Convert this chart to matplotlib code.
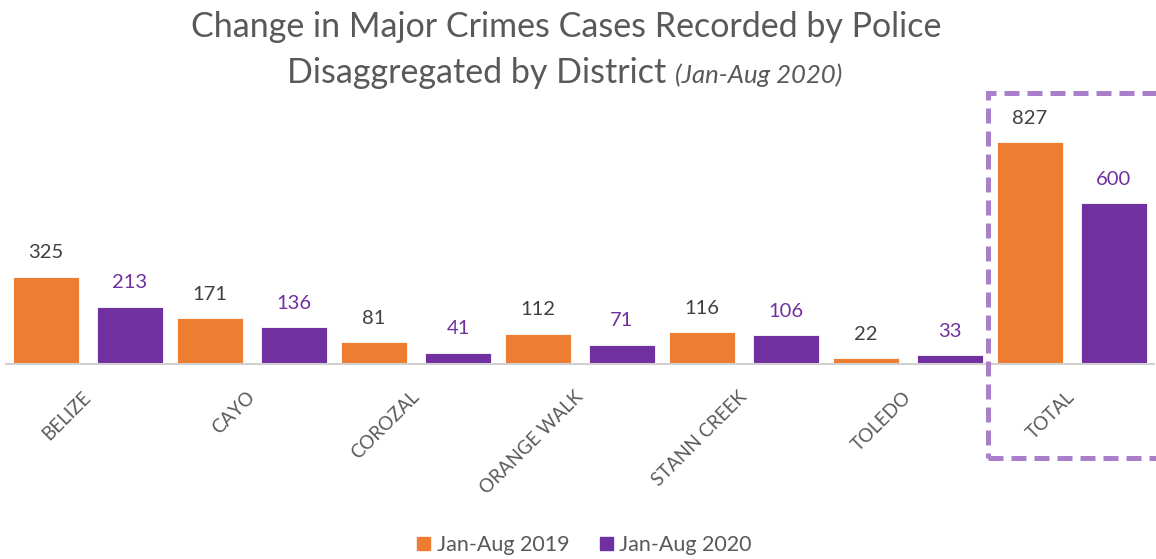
import matplotlib
matplotlib.use("Agg")
import matplotlib.pyplot as plt
import numpy as np
from matplotlib.patches import Rectangle, Patch

categories = ["BELIZE", "CAYO", "COROZAL", "ORANGE WALK", "STANN CREEK", "TOLEDO", "TOTAL"]
series_2019 = [325, 171, 81, 112, 116, 22, 827]
series_2020 = [213, 136, 41, 71, 106, 33, 600]
legend_labels = ["Jan-Aug 2019", "Jan-Aug 2020"]
title_line1 = "Change in Major Crimes Cases Recorded by Police"
title_line2 = "Disaggregated by District"
title_sub = "(Jan-Aug 2020)"

ORANGE = "#ED7D31"
PURPLE = "#7030A0"
GRAY = "#595959"
DARK = "#404040"

plt.rcParams['font.family'] = ['Lato', 'DejaVu Sans']

W, H = 1156, 559
fig = plt.figure(figsize=(W / 100, H / 100), dpi=100)

# axes in pixel coordinates
ax_left, ax_right = 6, 1154
ax_bottom = 363.5
ymax = 900
px_per_unit = 0.2676
ax_h = ymax * px_per_unit
ax = fig.add_axes([ax_left / W, (H - ax_bottom) / H, (ax_right - ax_left) / W, ax_h / H])

x = np.arange(len(categories))
bw = 0.408
off = 0.256
ax.bar(x - off, series_2019, bw, color=ORANGE, edgecolor="white", linewidth=0.6, label=legend_labels[0])
ax.bar(x + off, series_2020, bw, color=PURPLE, edgecolor="white", linewidth=0.6, label=legend_labels[1])

for xi, v in zip(x - off, series_2019):
    ax.annotate(str(v), (xi, v), xytext=(0, 13), textcoords="offset points",
                ha="center", va="baseline", fontsize=14.5, color=DARK)
for xi, v in zip(x + off, series_2020):
    ax.annotate(str(v), (xi, v), xytext=(0, 13), textcoords="offset points",
                ha="center", va="baseline", fontsize=14.5, color=PURPLE)

ax.set_xlim(-0.5, len(categories) - 0.5)
ax.set_ylim(0, ymax)
ax.set_yticks([])
ax.set_xticks(x)
ax.set_xticklabels(categories, rotation=45, ha="right", va="center",
                   rotation_mode="anchor", fontsize=13.5, color=GRAY)
ax.tick_params(axis="x", length=0, pad=22)
for s in ["top", "right", "left"]:
    ax.spines[s].set_visible(False)
ax.spines["bottom"].set_color("#D0D0D0")
ax.spines["bottom"].set_linewidth(1.5)

# dashed highlight box around TOTAL
box = Rectangle((988 / W, (H - 458) / H), (1162 - 988) / W, (458 - 93) / H,
                transform=fig.transFigure, fill=False, edgecolor="#A97FCB",
                linewidth=3.6, linestyle=(0, (3, 1.6)), clip_on=False)
fig.patches.append(box)

# title
fig.text(566 / W, 1 - 27 / H, title_line1, ha="center", va="center",
         fontsize=24.5, color=GRAY)
t2 = fig.text(287 / W, 1 - 73 / H, title_line2, ha="left", va="center",
              fontsize=24.5, color=GRAY)
fig.canvas.draw()
bb = t2.get_window_extent(renderer=fig.canvas.get_renderer())
fig.text((bb.x1 + 9) / W, 1 - 75 / H, title_sub, ha="left", va="center",
         fontsize=18.5, color=GRAY, style="italic")

handles = [Patch(color=ORANGE), Patch(color=PURPLE)]
fig.legend(handles, legend_labels, loc="center", bbox_to_anchor=(584.5 / W, 1 - 545 / H),
           ncol=2, frameon=False, fontsize=15.5, labelcolor=GRAY,
           handlelength=0.6, handleheight=0.6, handletextpad=0.3, columnspacing=1.4)

fig.savefig("out.png", dpi=100)
